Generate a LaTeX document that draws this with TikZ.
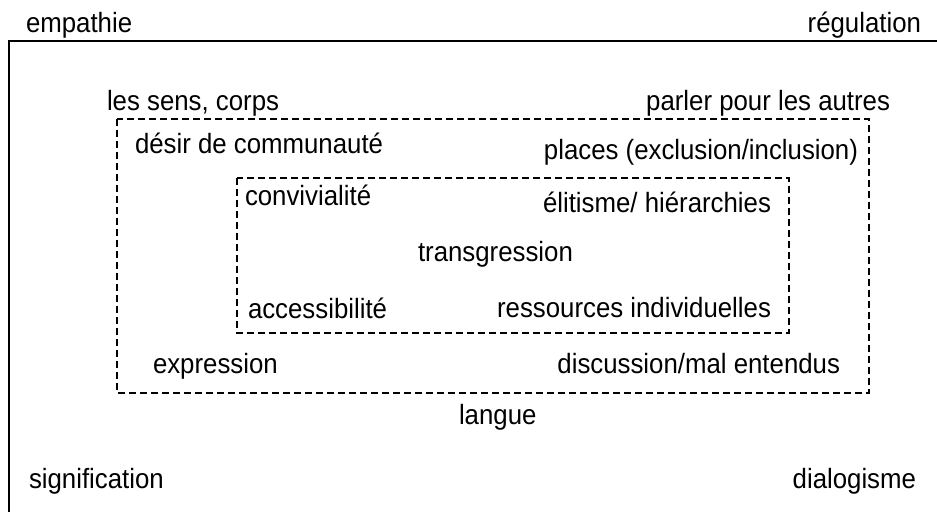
\documentclass[tikz,border=0pt]{standalone}
\usepackage{fontspec}
\usepackage{graphicx}
\setmainfont{Liberation Sans}
\newcommand{\stretchtxt}[1]{\scalebox{1}[1.08]{#1}}
\tikzset{
  lbl/.style={inner sep=0pt, outer sep=0pt, font=\fontsize{25.8}{30}\selectfont},
  frame/.style={line width=2.2pt},
  dbox/.style={line width=2.2pt, dash pattern=on 7pt off 4pt},
}
\begin{document}
\begin{tikzpicture}[x=1pt,y=-1pt]
\useasboundingbox (0,0) rectangle (937,512);
\fill[white] (0,0) rectangle (937,512);
% outer frame (open at right and bottom)
\coordinate (otl) at (9,41);
\coordinate (otr) at (937,41);
\coordinate (obl) at (9,512);
\draw[frame] (otr) -- (otl) -- (obl);
% dashed boxes
\draw[dbox] (117,119) rectangle (869,393);
\draw[dbox] (237,178) rectangle (789,333);
% labels
\node[lbl, anchor=base west] (empathie) at (26,32) {\stretchtxt{empathie}};
\node[lbl, anchor=base east] (regulation) at (921,32) {\stretchtxt{régulation}};
\node[lbl, anchor=base west] (sens) at (107,110) {\stretchtxt{les sens, corps}};
\node[lbl, anchor=base east] (parler) at (890,110) {\stretchtxt{parler pour les autres}};
\node[lbl, anchor=base west] (desir) at (135,153) {\stretchtxt{désir de communauté}};
\node[lbl, anchor=base east] (places) at (858,159) {\stretchtxt{places (exclusion/inclusion)}};
\node[lbl, anchor=base west] (convi) at (245,205) {\stretchtxt{convivialité}};
\node[lbl, anchor=base east] (elit) at (771,212) {\stretchtxt{élitisme/ hiérarchies}};
\node[lbl, anchor=base west] (trans) at (418,261) {\stretchtxt{transgression}};
\node[lbl, anchor=base west] (access) at (248,318) {\stretchtxt{accessibilité}};
\node[lbl, anchor=base east] (ress) at (771,317) {\stretchtxt{ressources individuelles}};
\node[lbl, anchor=base west] (expr) at (153,373) {\stretchtxt{expression}};
\node[lbl, anchor=base east] (disc) at (840,373) {\stretchtxt{discussion/mal entendus}};
\node[lbl, anchor=base west] (langue) at (459,424) {\stretchtxt{langue}};
\node[lbl, anchor=base west] (signif) at (29,488) {\stretchtxt{signification}};
\node[lbl, anchor=base east] (dialog) at (916,488) {\stretchtxt{dialogisme}};
\end{tikzpicture}
\end{document}
